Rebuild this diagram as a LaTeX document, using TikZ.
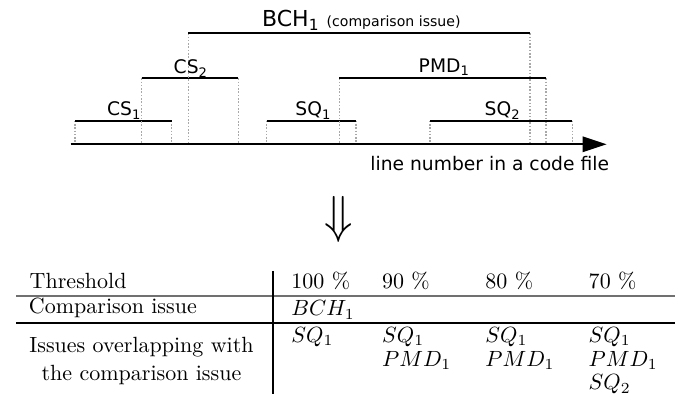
\documentclass[tikz,border=0pt]{standalone}
\usepackage{fontspec}
\usepackage{tikz}
\usetikzlibrary{arrows.meta}
\newfontfamily\dejavu{DejaVu Sans}
\definecolor{guidegray}{HTML}{A8A8A8}
\definecolor{rulegray}{HTML}{707070}

\begin{document}
\begin{tikzpicture}[x=0.4545pt, y=-0.4545pt,
  span/.style={draw=black,line width=0.8pt},
  guide/.style={draw=guidegray,line width=0.7pt,dash pattern=on 0.7pt off 0.8pt},
  axis/.style={draw=black,line width=1pt,-{Triangle[length=11pt,width=7pt]}},
  lab/.style={anchor=base west,inner sep=0pt,font=\dejavu\fontsize{8.5}{10}\selectfont},
  cell/.style={anchor=base west,inner sep=0pt}]
\useasboundingbox (0,0) rectangle (686,394);
% issues as line ranges
\foreach \a/\b/\y in {75/171.7/120.7, 141.7/238.3/78.3, 188.3/530/33.3,
                      266.7/356/120.7, 339.3/546/78.3, 430/572.3/120.7} {
  \draw[guide] (\a,\y) -- (\a,144.3);
  \draw[guide] (\b,\y) -- (\b,144.3);
  \draw[span] (\a,\y) -- (\b,\y);
}
\coordinate (axstart) at (70.7,144.3);
\coordinate (axend) at (606.7,144.3);
\draw[axis] (axstart) -- (axend);
\node[lab,font=\dejavu\fontsize{10}{12}\selectfont] (bch) at (261.7,26.7)
  {BCH\textsubscript{1} {\fontsize{6.4}{8}\selectfont(comparison issue)}};
\node[lab] (cs1) at (106.7,116) {CS\textsubscript{1}};
\node[lab] (cs2) at (173.3,73.5) {CS\textsubscript{2}};
\node[lab] (sq1) at (295,116) {SQ\textsubscript{1}};
\node[lab] (pmd1) at (418.3,72.5) {PMD\textsubscript{1}};
\node[lab] (sq2) at (484.3,116) {SQ\textsubscript{2}};
\node[lab] (axlabel) at (370,170.7) {line number in a code file};
\node[inner sep=0pt,font=\Huge] (implies) at (338.3,220) {\scalebox{0.85}[0.95]{$\Downarrow$}};
% table
\draw[rulegray,line width=0.5pt] (16,296) -- (675,296);
\draw[line width=0.5pt] (16,323) -- (675,323);
\draw[line width=0.5pt] (273,271) -- (273,394);
\node[cell] (thr) at (29.3,288.5) {Threshold};
\node[cell] (cmp) at (28.5,314) {Comparison issue};
\node[anchor=base,inner sep=0pt] (ovl1) at (141.5,352.7) {Issues overlapping with};
\node[anchor=base,inner sep=0pt] (ovl2) at (141.5,380.3) {the comparison issue};
\foreach \x/\p [count=\i] in {291/100, 381.7/90, 485/80, 588.3/70}
  \node[cell] (th\i) at (\x,289) {\p\ \%};
\node[cell] (bchcell) at (291,316) {$BCH_1$};
\foreach \x [count=\i] in {291, 381.7, 485, 588.3}
  \node[cell] (sqa\i) at (\x,342.5) {$SQ_1$};
\foreach \x [count=\i] in {381.7, 485, 588.3}
  \node[cell] (pmd\i) at (\x,366.7) {$PMD_1$};
\node[cell] (sqb) at (588.3,390) {$SQ_2$};
\end{tikzpicture}
\end{document}
